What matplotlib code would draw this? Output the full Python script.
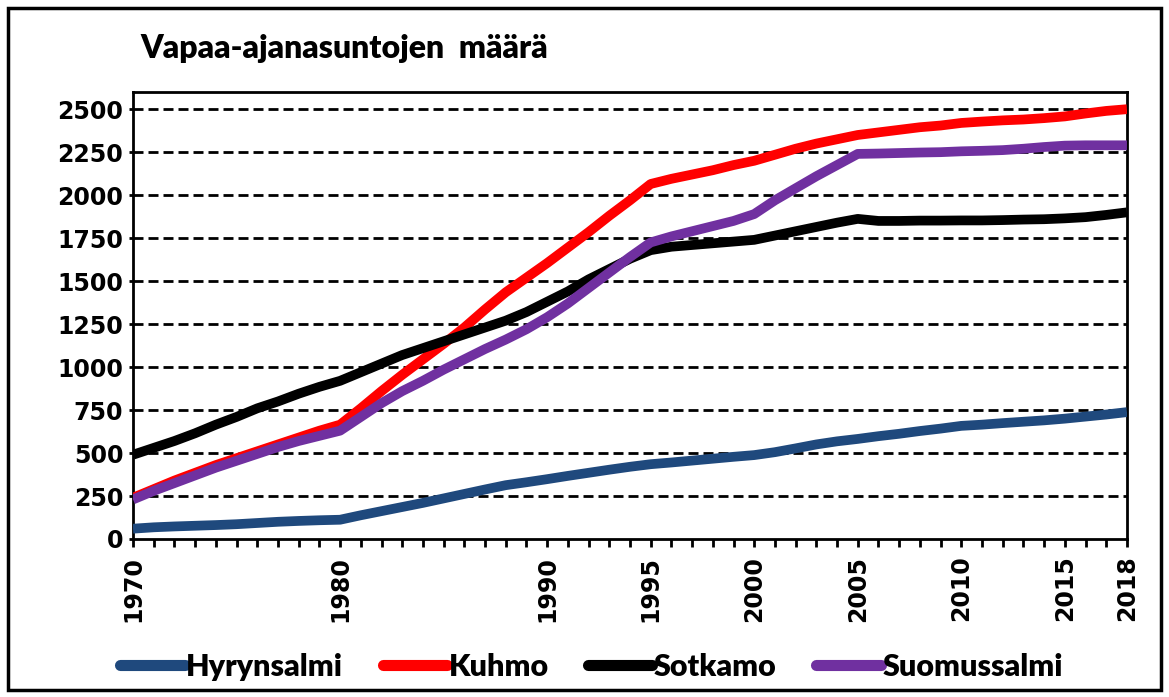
import numpy as np
import matplotlib.pyplot as plt
from matplotlib.patches import Rectangle

years = list(range(1970, 2019))

hyrynsalmi = [60, 68, 73, 77, 81, 86, 93, 100, 105, 109,
              112, 138, 162, 186, 210, 236, 262, 288, 313, 330,
              348, 367, 385, 403, 420, 435, 445, 456, 467, 478,
              488, 505, 527, 550, 568, 582, 598, 612, 628, 642,
              658, 665, 674, 682, 690, 700, 712, 724, 738]
kuhmo = [240, 290, 340, 385, 430, 470, 510, 550, 590, 630,
         665, 760, 860, 955, 1045, 1135, 1230, 1335, 1435, 1520,
         1605, 1695, 1785, 1880, 1970, 2065, 2095, 2120, 2145, 2175,
         2200, 2235, 2270, 2300, 2325, 2350, 2365, 2380, 2395, 2405,
         2420, 2428, 2435, 2440, 2448, 2458, 2475, 2490, 2500]
sotkamo = [490, 530, 570, 615, 665, 710, 760, 800, 845, 885,
           920, 970, 1020, 1070, 1110, 1150, 1190, 1230, 1270, 1320,
           1380, 1440, 1510, 1570, 1630, 1680, 1700, 1710, 1720, 1730,
           1740, 1765, 1790, 1815, 1840, 1862, 1850, 1850, 1852, 1852,
           1853, 1853, 1855, 1858, 1860, 1865, 1872, 1885, 1900]
suomussalmi = [230, 280, 325, 370, 415, 455, 495, 535, 570, 600,
               630, 710, 790, 860, 920, 985, 1045, 1105, 1160, 1220,
               1290, 1370, 1460, 1550, 1640, 1725, 1760, 1790, 1820, 1850,
               1890, 1970, 2040, 2110, 2175, 2240, 2242, 2245, 2248, 2250,
               2255, 2258, 2262, 2270, 2280, 2288, 2290, 2290, 2290]

xlabels = [1970, 1980, 1990, 1995, 2000, 2005, 2010, 2015, 2018]
yticks = list(range(0, 2501, 250))

fig = plt.figure(figsize=(11.69, 6.97), dpi=100)
ax = fig.add_axes([0.1138, 0.2267, 0.964 - 0.1138, 0.868 - 0.2267])

for yv in yticks[1:]:
    ax.axhline(yv, color='black', lw=2, ls=(0, (3.6, 1.8)), zorder=1)

lw = 7
ax.plot(years, hyrynsalmi, color='#1f497d', lw=lw, label='Hyrynsalmi', solid_capstyle='butt', zorder=3)
ax.plot(years, kuhmo, color='#ff0000', lw=lw, label='Kuhmo', solid_capstyle='butt', zorder=3)
ax.plot(years, sotkamo, color='#000000', lw=lw, label='Sotkamo', solid_capstyle='butt', zorder=3)
ax.plot(years, suomussalmi, color='#7030a0', lw=lw, label='Suomussalmi', solid_capstyle='butt', zorder=4)

ax.set_xlim(1970, 2018)
ax.set_ylim(0, 2600)
ax.set_xticks(xlabels)
ax.set_xticks(years, minor=True)
ax.set_xticklabels([str(v) for v in xlabels], rotation=90, fontsize=17, fontweight='bold')
ax.set_yticks(yticks)
ax.set_yticklabels([str(v) for v in yticks], fontsize=17, fontweight='bold')
ax.tick_params(axis='x', which='both', direction='out', length=6, width=2, pad=6)
ax.tick_params(axis='y', length=3, width=2, pad=4)
for s in ax.spines.values():
    s.set_linewidth(2)

fig.text(0.12, 0.93, 'Vapaa-ajanasuntojen  määrä', fontsize=23, fontweight='heavy',
         family='Lato', va='center', ha='left')

leg = fig.legend(loc='center', bbox_to_anchor=(0.506, 0.043), ncol=4, frameon=False,
                 handlelength=2.1, handletextpad=0.05, columnspacing=1.3,
                 prop={'family': 'Lato', 'weight': 'heavy', 'size': 22})
for ln in leg.get_lines():
    ln.set_linewidth(8)
    ln.set_solid_capstyle('round')

fig.patches.append(Rectangle((0.007, 0.01), 0.986, 0.978, transform=fig.transFigure,
                             fill=False, lw=2.5, edgecolor='black'))

fig.savefig('out.png', dpi=100)
